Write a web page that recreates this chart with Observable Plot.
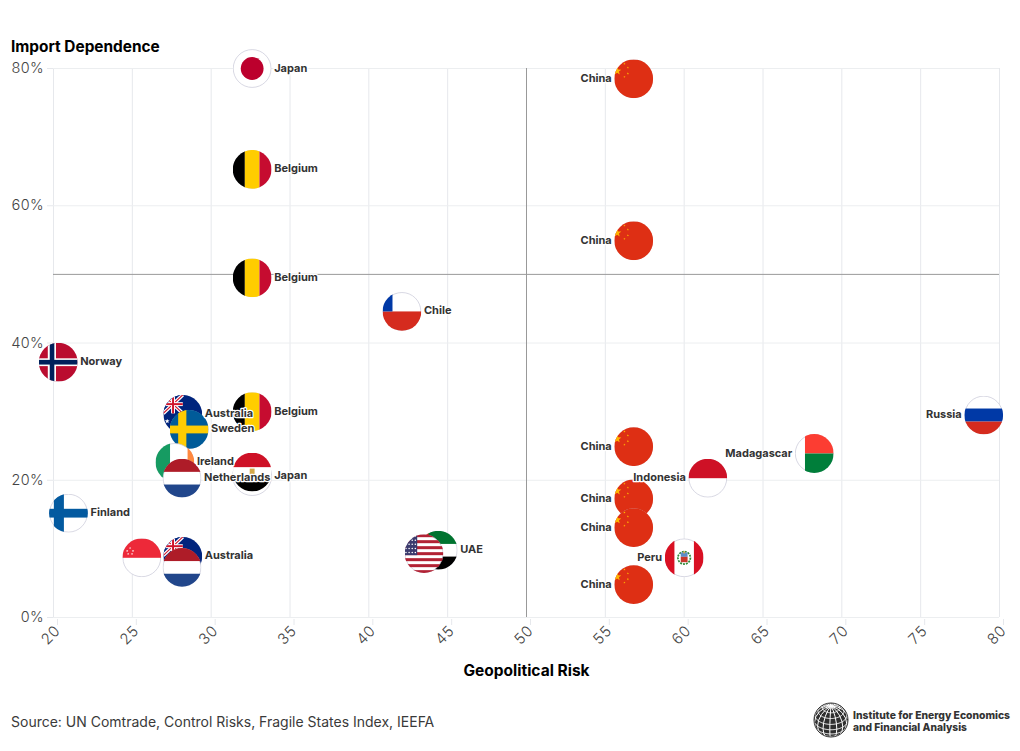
<!DOCTYPE html>
<html><head><meta charset="utf-8">
<script src="https://cdn.jsdelivr.net/npm/d3@7"></script>
<script src="https://cdn.jsdelivr.net/npm/@observablehq/plot@0.6"></script>
<style>
html,body{margin:0;padding:0;background:#fff;font-family:Inter,sans-serif}
#page{position:relative;width:1020px;height:751px;overflow:hidden}
#ylab{position:absolute;left:11px;top:37px;font:700 15.4px Inter,sans-serif;color:#000}
#src{position:absolute;left:11px;top:713px;font:400 14px Inter,sans-serif;color:#3a3a3a}
#logo{position:absolute;left:810px;top:698px}
#chart{position:absolute;left:0;top:0}
</style></head><body>
<div id="page"><div id="chart"></div>
<div id="ylab">Import Dependence</div>
<div id="src">Source: UN Comtrade, Control Risks, Fragile States Index, IEEFA</div>
<div id="logo"></div></div>
<script>
// draw order follows the reference (later = on top)
const flagCodes = ["jp","be","be","be","cl","cn","cn","no","au","se","ie","nl","eg","fi","sg","au","nl","ae","us","pe","id","mg","ru","cn","cn","cn","cn"];
const riskValues = [32.6,32.6,32.6,32.6,42.1,56.8,56.8,20.3,28.2,28.6,27.7,28.15,32.6,20.95,25.6,28.2,28.15,44.4,43.5,60,61.5,68.25,79,56.8,56.8,56.8,56.8];
const importValues = [80,65.3,49.5,30,44.6,78.5,54.9,37.2,29.6,27.4,22.6,20.3,21.2,15.2,8.7,8.9,7.3,9.8,9.3,8.7,20.3,23.9,29.5,24.9,17.3,13.1,4.8];
const labelTexts = ["Japan","Belgium","Belgium","Belgium","Chile","China","China","Norway","Australia","Sweden","Ireland","Netherlands","Japan","Finland","","Australia","","UAE","","Peru","Indonesia","Madagascar","Russia","China","China","China","China"];
const labelSides = ["r","r","r","r","r","l","l","r","r","r","r","r","r","r","r","r","r","r","r","l","l","l","l","l","l","l","l"];
const xTicks = d3.range(20,81,5);
const yTicks = [0,20,40,60,80];

const star=(cx,cy,r,fill)=>{let p=[];for(let i=0;i<10;i++){const a=-Math.PI/2+i*Math.PI/5,q=i%2?r*0.42:r;p.push((cx+q*Math.cos(a)).toFixed(2)+","+(cy+q*Math.sin(a)).toFixed(2));}return `<polygon points="${p.join(" ")}" fill="${fill}"/>`;};
const R=(x,y,w,h,f)=>`<rect x="${x}" y="${y}" width="${w}" height="${h}" fill="${f}"/>`;
const jack=`<g>${R(0,0,20,19,"#00247d")}<path d="M0 0L20 19M20 0L0 19" stroke="#fff" stroke-width="3.6"/><path d="M0 0L20 19M20 0L0 19" stroke="#cf142b" stroke-width="1.2"/>${R(8,0,4,19,"#fff")}${R(0,7.5,20,4,"#fff")}${R(9,0,2,19,"#cf142b")}${R(0,8.5,20,2,"#cf142b")}</g>`;
// white parts of a flag are left out: the white disc and its thin rim show through there
const flagArt={
 jp:`<circle cx="20" cy="20" r="11.7" fill="#bc002d"/>`,
 be:`${R(0,0,12.5,40,"#000")}${R(12.5,0,15,40,"#ffcd00")}${R(27.5,0,12.5,40,"#c60c30")}`,
 cl:`${R(0,20,40,20,"#d52b1e")}${R(0,0,10.3,20,"#0039a6")}`,
 cn:`${R(0,0,40,40,"#de2f14")}${star(3,12,4.5,"#ffb400")}${star(10.5,4.5,1.2,"#ffb400")}${star(14,8.5,1.2,"#ffb400")}${star(14,14.5,1.2,"#ffb400")}${star(10.5,18,1.2,"#ffb400")}`,
 no:`${R(0,0,40,40,"#ba0c2f")}${R(9.3,0,8.4,40,"#fff")}${R(0,16,40,8,"#fff")}${R(11.3,0,4.7,40,"#00205b")}${R(0,17.6,40,4.8,"#00205b")}`,
 au:`${R(0,0,40,40,"#00247d")}${jack}${star(4,27,2.6,"#fff")}`,
 se:`${R(0,0,40,40,"#005b99")}${R(8.8,0,8.4,40,"#fecc02")}${R(0,16,40,8,"#fecc02")}`,
 ie:`${R(0,0,15,40,"#169b62")}${R(33,0,7,40,"#ff883e")}`,
 nl:`${R(0,0,40,13.5,"#ae1c28")}${R(0,26.5,40,13.5,"#21468b")}`,
 eg:`${R(0,0,40,15,"#ce1126")}${R(0,28.5,40,12,"#000")}${R(17.5,16.5,5,7,"#d4a94a")}`,
 fi:`${R(5,0,10.3,40,"#035aa0")}${R(0,15.5,40,9,"#035aa0")}`,
 sg:`${R(0,0,40,20,"#ed2939")}${star(5,13,1.2,"#fff")}${star(8,10,1.2,"#fff")}${star(11,13,1.2,"#fff")}${star(6,16,1.2,"#fff")}${star(10,16,1.2,"#fff")}`,
 ae:`${R(0,0,40,13.5,"#00732f")}${R(0,26.5,40,13.5,"#000")}${R(0,0,10,40,"#ff0000")}`,
 us:`${d3.range(7).map(i=>R(0,i*6.15,40,3.08,"#b22234")).join("")}${R(0,0,13,21.5,"#3c3b6e")}${d3.range(5).flatMap(j=>d3.range(4).map(i=>`<circle cx="${1.5+i*3.2}" cy="${2+j*4.2}" r="0.8" fill="#fff"/>`)).join("")}`,
 pe:`${R(0,0,10,40,"#d91023")}${R(30,0,10,40,"#d91023")}<circle cx="20" cy="20" r="6.4" fill="none" stroke="#2e8b3a" stroke-width="1.8" stroke-dasharray="2 1"/>${R(16.5,14.5,7,4.5,"#5b8dc8")}${R(16.5,19,7,5.5,"#c9372c")}${R(19,13.5,2,2,"#d4a94a")}`,
 id:`${R(0,0,40,20,"#ce1126")}`,
 mg:`${R(10.5,0,29.5,20,"#fc3d32")}${R(10.5,20,29.5,20,"#007e3a")}`,
 ru:`${R(0,13.3,40,13.4,"#0039a6")}${R(0,26.7,40,13.3,"#d52b1e")}`
};
const disc=c=>c==="eg"?`<circle cx="20" cy="20" r="19.6" fill="#fff"/>`:`<circle cx="20" cy="20" r="19.4" fill="#fff" stroke="#c5c5d6" stroke-width="0.7"/>`;
const flagUri=c=>"data:image/svg+xml;charset=utf-8,"+encodeURIComponent(
 `<svg xmlns="http://www.w3.org/2000/svg" width="160" height="160" viewBox="0 0 40 40"><defs><clipPath id="c"><circle cx="20" cy="20" r="19.9"/></clipPath></defs>${disc(c)}<g clip-path="url(#c)">${flagArt[c]}</g></svg>`);

const points=flagCodes.map((c,i)=>({code:c,src:flagUri(c),risk:riskValues[i],share:importValues[i],label:labelTexts[i],side:labelSides[i]}));
const labelled=side=>points.filter(d=>d.label&&d.side===side&&d.code!=="eg");
const labelStyle={x:"risk",y:"share",text:"label",fontSize:11,fontWeight:700,fill:"#333",stroke:"#fff",strokeWidth:2.5,paintOrder:"stroke",dy:-0.5};
const chart=Plot.plot({
 width:1020,height:690,marginLeft:53,marginRight:21,marginTop:68,marginBottom:73,
 style:{fontFamily:"Inter, sans-serif",background:"transparent",overflow:"visible"},
 x:{type:"linear",domain:[20,80],ticks:xTicks,label:null,tickFormat:d=>String(d)},
 y:{type:"linear",domain:[0,80],ticks:yTicks,label:null,tickFormat:d=>d+"%"},
 marks:[
  Plot.gridX(xTicks,{stroke:"#e6e8ec",strokeOpacity:1}),
  Plot.gridY(yTicks,{stroke:"#eceef0",strokeOpacity:1}),
  Plot.axisX({ticks:xTicks,tickRotate:-45,tickSize:6,stroke:"#e6e8ec",strokeOpacity:1,fill:"#444",fontSize:15,fontWeight:300,tickPadding:3,dx:4,dy:2,label:null,tickFormat:d=>String(d)}),
  Plot.axisY({ticks:yTicks,tickSize:6,stroke:"#e6e8ec",strokeOpacity:1,fill:"#444",fontSize:14.5,fontWeight:300,tickPadding:4,label:null,tickFormat:d=>d+"%"}),
  Plot.ruleX([50],{stroke:"#999",strokeWidth:1}),
  Plot.ruleY([50],{stroke:"#999",strokeWidth:1}),
  Plot.dot(points.filter(d=>d.code==="eg"),{x:"risk",y:"share",r:19.5,dy:4,fill:"#fff",stroke:"#c5c5d6",strokeWidth:0.7}),
  Plot.image(points,{x:"risk",y:"share",src:"src",width:39,height:39}),
  Plot.text(labelled("r"),{...labelStyle,textAnchor:"start",dx:22}),
  Plot.text(labelled("l"),{...labelStyle,textAnchor:"end",dx:-22}),
  Plot.text(points.filter(d=>d.code==="eg"),{...labelStyle,textAnchor:"start",dx:22,dy:3.5}),
  Plot.text(["Geopolitical Risk"],{frameAnchor:"bottom",dy:58,fontSize:15.5,fontWeight:700,fill:"#000"})
 ]
});
document.getElementById("chart").append(chart);

// logo: globe from d3's own geographic projection
const proj=d3.geoOrthographic().scale(17).translate([21,22]).rotate([20,-35]).clipAngle(90);
const path=d3.geoPath(proj);
const grat=d3.geoGraticule().step([24,20])();
document.getElementById("logo").innerHTML=`<svg width="210" height="44" font-family="Inter, sans-serif">
<circle cx="21" cy="22" r="17" fill="#2f2f2f"/>
<path d="${path(grat)}" fill="none" stroke="#fff" stroke-width="1"/>
<circle cx="21" cy="22" r="17" fill="none" stroke="#333" stroke-width="1"/>
<text x="43" y="21" font-size="10.5" font-weight="800" fill="#333" textLength="157" lengthAdjust="spacingAndGlyphs">Institute for Energy Economics</text>
<text x="43" y="33" font-size="10.5" font-weight="800" fill="#333" textLength="114" lengthAdjust="spacingAndGlyphs">and Financial Analysis</text>
</svg>`;
</script></body></html>
